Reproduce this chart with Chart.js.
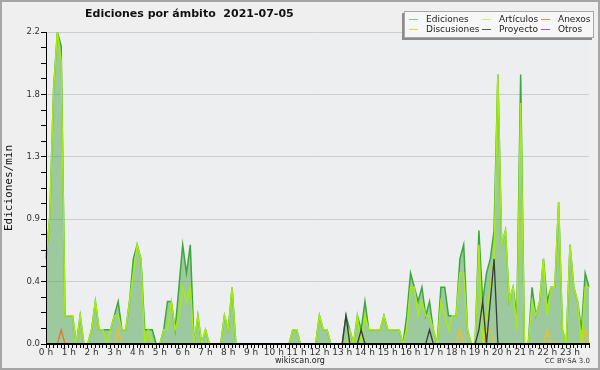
<!DOCTYPE html>
<html>
<head>
<meta charset="utf-8">
<title>Ediciones por ámbito</title>
<script src="https://cdn.jsdelivr.net/npm/chart.js@4/dist/chart.umd.min.js"></script>
<style>
  html, body { margin: 0; padding: 0; background: #efefef; }
  #wrap { position: relative; width: 600px; height: 370px; overflow: hidden; }
  #chart { position: absolute; left: 0; top: 0; }
  .txt { position: absolute; font-family: "DejaVu Sans", sans-serif; white-space: pre; color: #111; }
  #title { left: 85px; top: 7px; font-size: 11px; line-height: 14px; font-weight: bold; }
  #source { left: 250px; width: 100px; text-align: center; top: 356px; font-size: 8px; line-height: 10px; color: #222; }
  #licence { right: 10px; top: 357px; font-size: 7px; line-height: 9px; color: #333; }
  #legend {
    position: absolute; left: 404px; top: 11px; width: 190px; height: 27px;
    box-sizing: border-box; padding: 2px 0 0 3px;
    background: #f7f7f7; border: 1px solid #a8a8a8; box-shadow: -2px 2px 0 #8c8c8c;
    display: grid; grid-template-columns: 73px 59px 52px; grid-auto-rows: 10px;
    font: 9px/10px "DejaVu Sans", sans-serif; color: #222;
  }
  #legend span.item { display: flex; align-items: center; white-space: nowrap; }
  #legend i { display: inline-block; width: 9px; height: 1px; margin: 0 8px 0 1px; }
</style>
</head>
<body>
<div id="wrap">
  <canvas id="chart" width="600" height="370"></canvas>
  <div id="title" class="txt">Ediciones por ámbito  2021-07-05</div>
  <div id="legend"></div>
  <div id="source" class="txt">wikiscan.org</div>
  <div id="licence" class="txt">CC BY-SA 3.0</div>
</div>
<script>
// ediciones por minuto, tramos de 10 minutos (00:00 .. 23:50)
const hourLabels = ["0 h", "1 h", "2 h", "3 h", "4 h", "5 h", "6 h", "7 h", "8 h", "9 h", "10 h", "11 h",
    "12 h", "13 h", "14 h", "15 h", "16 h", "17 h", "18 h", "19 h", "20 h", "21 h", "22 h", "23 h"];
const yLabels = ["0.0", "0.4", "0.9", "1.3", "1.8", "2.2"];

const ediciones = [
    0.6, 0.9, 1.8, 2.2, 2.1, 0.2, 0.2, 0.2, 0, 0.2, 0, 0,
    0.1, 0.3, 0.1, 0.1, 0.1, 0.1, 0.2, 0.3, 0.1, 0.1, 0.3, 0.6,
    0.7, 0.6, 0.1, 0.1, 0.1, 0, 0, 0.1, 0.3, 0.3, 0.1, 0.4,
    0.7, 0.5, 0.7, 0, 0.2, 0, 0.1, 0, 0, 0, 0, 0.2,
    0.1, 0.4, 0, 0, 0, 0, 0, 0, 0, 0, 0, 0,
    0, 0, 0, 0, 0, 0.1, 0.1, 0, 0, 0, 0, 0,
    0.2, 0.1, 0.1, 0, 0, 0, 0, 0.2, 0.1, 0, 0.2, 0.1,
    0.3, 0.1, 0.1, 0.1, 0.1, 0.2, 0.1, 0.1, 0.1, 0.1, 0, 0.2,
    0.5, 0.4, 0.3, 0.4, 0.2, 0.3, 0.1, 0, 0.4, 0.4, 0.2, 0.2,
    0.2, 0.6, 0.7, 0.1, 0, 0, 0.8, 0.3, 0.5, 0.6, 0.8, 1.9,
    0.7, 0.8, 0.3, 0.4, 0.2, 1.9, 0, 0, 0.4, 0.2, 0.3, 0.6,
    0.3, 0.4, 0.4, 1.0, 0.1, 0, 0.7, 0.4, 0.3, 0.1, 0.5, 0.4
];
const articulos = [
    0.6, 0.9, 1.8, 2.2, 2.0, 0.2, 0.2, 0.2, 0, 0.2, 0, 0,
    0.1, 0.3, 0.1, 0.1, 0, 0.1, 0.2, 0.2, 0.1, 0.1, 0.3, 0.5,
    0.7, 0.6, 0, 0.1, 0, 0, 0, 0.1, 0.1, 0.3, 0.1, 0.2,
    0.4, 0.3, 0.4, 0, 0.2, 0, 0.1, 0, 0, 0, 0, 0.2,
    0.1, 0.4, 0, 0, 0, 0, 0, 0, 0, 0, 0, 0,
    0, 0, 0, 0, 0, 0.1, 0.1, 0, 0, 0, 0, 0,
    0.2, 0.1, 0.1, 0, 0, 0, 0, 0, 0.1, 0, 0.2, 0,
    0.2, 0.1, 0.1, 0.1, 0.1, 0.2, 0.1, 0.1, 0.1, 0.1, 0, 0.1,
    0.4, 0.4, 0.2, 0.3, 0.2, 0.2, 0.1, 0, 0.3, 0.2, 0.1, 0.2,
    0.2, 0.5, 0.5, 0.1, 0, 0, 0.7, 0, 0.2, 0.4, 0.6, 1.9,
    0.7, 0.8, 0.3, 0.4, 0.1, 1.7, 0, 0, 0.3, 0.2, 0.3, 0.6,
    0.2, 0.4, 0.4, 1.0, 0.1, 0, 0.7, 0.4, 0.3, 0, 0.4, 0.4
];
const anexos = [
    0, 0, 0, 0, 0.1, 0, 0, 0, 0, 0, 0, 0,
    0, 0, 0, 0, 0, 0, 0, 0, 0, 0, 0, 0,
    0, 0, 0, 0, 0, 0, 0, 0, 0, 0, 0, 0,
    0, 0, 0, 0, 0, 0, 0, 0, 0, 0, 0, 0,
    0, 0, 0, 0, 0, 0, 0, 0, 0, 0, 0, 0,
    0, 0, 0, 0, 0, 0, 0, 0, 0, 0, 0, 0,
    0, 0, 0, 0, 0, 0, 0, 0, 0, 0, 0, 0,
    0, 0, 0, 0, 0, 0, 0, 0, 0, 0, 0, 0,
    0, 0, 0, 0, 0, 0, 0, 0, 0, 0, 0, 0,
    0, 0, 0, 0, 0, 0, 0, 0, 0, 0, 0, 0,
    0, 0, 0, 0, 0, 0, 0, 0, 0, 0, 0, 0,
    0, 0, 0, 0, 0, 0, 0, 0, 0, 0, 0, 0
];
const discusiones = [
    0, 0, 0, 0, 0, 0, 0, 0, 0, 0, 0, 0,
    0, 0, 0, 0, 0, 0, 0, 0.1, 0, 0, 0, 0,
    0, 0, 0, 0, 0, 0, 0, 0, 0, 0, 0, 0,
    0, 0, 0, 0, 0, 0, 0, 0, 0, 0, 0, 0,
    0, 0, 0, 0, 0, 0, 0, 0, 0, 0, 0, 0,
    0, 0, 0, 0, 0, 0, 0, 0, 0, 0, 0, 0,
    0, 0, 0, 0, 0, 0, 0, 0, 0, 0, 0, 0,
    0, 0, 0, 0, 0, 0, 0, 0, 0, 0, 0, 0,
    0, 0, 0, 0, 0, 0, 0, 0, 0, 0, 0, 0,
    0, 0.1, 0, 0, 0, 0, 0, 0, 0.1, 0.1, 0, 0,
    0, 0, 0, 0, 0, 0, 0, 0, 0, 0, 0, 0,
    0.1, 0, 0, 0, 0, 0, 0, 0, 0, 0, 0.1, 0
];
const proyecto = [
    0, 0, 0, 0, 0, 0, 0, 0, 0, 0, 0, 0,
    0, 0, 0, 0, 0, 0, 0, 0, 0, 0, 0, 0,
    0, 0, 0, 0, 0, 0, 0, 0, 0, 0, 0, 0,
    0, 0, 0, 0, 0, 0, 0, 0, 0, 0, 0, 0,
    0, 0, 0, 0, 0, 0, 0, 0, 0, 0, 0, 0,
    0, 0, 0, 0, 0, 0, 0, 0, 0, 0, 0, 0,
    0, 0, 0, 0, 0, 0, 0, 0.2, 0, 0, 0, 0.1,
    0, 0, 0, 0, 0, 0, 0, 0, 0, 0, 0, 0,
    0, 0, 0, 0, 0, 0.1, 0, 0, 0, 0, 0, 0,
    0, 0, 0, 0, 0, 0, 0.1, 0.3, 0, 0.3, 0.6, 0,
    0, 0, 0, 0, 0, 0, 0, 0, 0, 0, 0, 0,
    0, 0, 0, 0, 0, 0, 0, 0, 0, 0, 0, 0
];
const otros = [
    0, 0, 0, 0, 0, 0, 0, 0, 0, 0, 0, 0,
    0, 0, 0, 0, 0, 0, 0, 0, 0, 0, 0, 0,
    0, 0, 0, 0, 0, 0, 0, 0, 0, 0, 0, 0,
    0, 0, 0, 0, 0, 0, 0, 0, 0, 0, 0, 0,
    0, 0, 0, 0, 0, 0, 0, 0, 0, 0, 0, 0,
    0, 0, 0, 0, 0, 0, 0, 0, 0, 0, 0, 0,
    0, 0, 0, 0, 0, 0, 0, 0, 0, 0, 0, 0,
    0, 0, 0, 0, 0, 0, 0, 0, 0, 0, 0, 0,
    0, 0, 0, 0, 0, 0, 0, 0, 0, 0, 0, 0,
    0, 0, 0, 0, 0, 0, 0, 0, 0, 0, 0, 0,
    0, 0, 0, 0, 0, 0, 0, 0, 0, 0, 0, 0,
    0, 0, 0, 0, 0, 0, 0, 0, 0, 0, 0, 0
];

// etiquetas de los tramos: "00:00", "00:10", ...
const tramos = [];
for (let h = 0; h < 24; h++) {
    for (let m = 0; m < 60; m += 10) {
        tramos.push(String(h).padStart(2, "0") + ":" + String(m).padStart(2, "0"));
    }
}

function serie(label, data, color, legendColor, order, extra) {
    return Object.assign({
        label: label,
        data: data,
        borderColor: color,
        legendColor: legendColor,
        borderWidth: 1.3,
        pointRadius: 0,
        tension: 0,
        fill: false,
        order: order
    }, extra || {});
}

const datasets = [
    serie("Ediciones", ediciones, "#3aa83a", "#80cf80", 6,
        {fill: "origin", backgroundColor: "rgba(70,160,70,0.48)", borderWidth: 1.5}),
    serie("Artículos", articulos, "#a6ec10", "#c8ef70", 5, {borderWidth: 1.5}),
    serie("Anexos", anexos, "#e8703a", "#f08a55", 3),
    serie("Discusiones", discusiones, "#f0c020", "#f2d040", 2),
    serie("Proyecto", proyecto, "#3a3a3a", "#555555", 1),
    serie("Otros", otros, "#9a40e0", "#9a55e8", 4)
];

// fondo del gráfico y marco
const backdrop = {
    id: "backdrop",
    beforeDraw(chart) {
        const {ctx, chartArea: a, width, height} = chart;
        ctx.save();
        ctx.fillStyle = "#efefef";
        ctx.fillRect(0, 0, width, height);
        ctx.fillStyle = "#edeef0";
        ctx.fillRect(a.left, a.top, a.right - a.left, a.bottom - a.top);
        ctx.strokeStyle = "#a5a5a5";
        ctx.lineWidth = 2;
        ctx.strokeRect(1, 1, width - 2, height - 2);
        ctx.restore();
    }
};

// ejes encima de las series
const axisLines = {
    id: "axisLines",
    afterDatasetsDraw(chart) {
        const {ctx, chartArea: a} = chart;
        ctx.save();
        ctx.strokeStyle = "#000";
        ctx.lineWidth = 1;
        ctx.beginPath();
        ctx.moveTo(a.left + 0.5, a.top);
        ctx.lineTo(a.left + 0.5, a.bottom);
        ctx.stroke();
        ctx.lineWidth = 2;
        ctx.beginPath();
        ctx.moveTo(a.left, a.bottom);
        ctx.lineTo(a.right + 1, a.bottom);
        ctx.stroke();
        ctx.restore();
    }
};

const chart = new Chart(document.getElementById("chart"), {
    type: "line",
    data: {labels: tramos, datasets: datasets},
    options: {
        responsive: false,
        animation: false,
        devicePixelRatio: 1,
        layout: {padding: {top: 32, right: 11, left: 0, bottom: 0}},
        plugins: {
            legend: {display: false},
            title: {display: false},
            tooltip: {enabled: false}
        },
        scales: {
            x: {
                offset: false,
                border: {display: false},
                grid: {drawOnChartArea: false, tickLength: 4, tickColor: "#000", lineWidth: 1},
                ticks: {
                    autoSkip: false,
                    maxRotation: 0,
                    minRotation: 0,
                    padding: -1,
                    color: "#333",
                    font: {family: "DejaVu Sans", size: 9},
                    callback: (v, i) => i % 6 === 0 ? hourLabels[i / 6] : ""
                },
                afterFit(scale) { scale.height = 26; }
            },
            y: {
                min: 0,
                max: 2.2,
                border: {display: false},
                grid: {
                    color: c => (c.index > 0 && c.index % 4 === 0) ? "#cdcdcd" : "rgba(0,0,0,0)",
                    tickColor: "#000",
                    tickLength: 5,
                    lineWidth: 1
                },
                ticks: {
                    stepSize: 0.11,
                    padding: 1,
                    color: "#333",
                    font: {family: "DejaVu Sans", size: 8.5},
                    callback: (v, i) => i % 4 === 0 ? yLabels[i / 4] : ""
                },
                title: {
                    display: true,
                    text: "Ediciones/min",
                    color: "#111",
                    font: {family: "DejaVu Sans Mono", size: 11},
                    padding: {top: 2.5, bottom: 0}
                },
                afterFit(scale) { scale.width = 46; }
            }
        }
    },
    plugins: [backdrop, axisLines]
});

// leyenda en html, a partir de las series del gráfico
const legendEl = document.getElementById("legend");
chart.data.datasets.forEach(ds => {
    const item = document.createElement("span");
    item.className = "item";
    const sw = document.createElement("i");
    sw.style.background = ds.legendColor;
    item.appendChild(sw);
    item.appendChild(document.createTextNode(ds.label));
    legendEl.appendChild(item);
});
</script>
</body>
</html>
